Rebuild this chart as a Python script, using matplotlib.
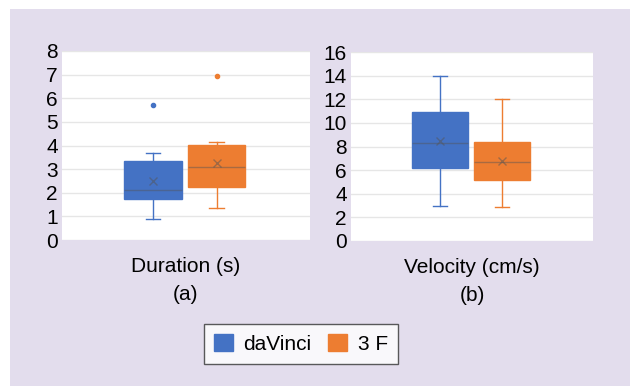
import matplotlib
matplotlib.use("Agg")
import matplotlib.pyplot as plt
from matplotlib.patches import Patch, Rectangle

plt.rcParams['font.family'] = ['Liberation Sans', 'DejaVu Sans']

series = ["daVinci", "3 F"]
colors = ["#4472c4", "#ed7d31"]

# box statistics: (whislo, q1, med, mean, q3, whishi, outliers)
duration_stats = [
    (0.9, 1.75, 2.1, 2.5, 3.33, 3.7, [5.7]),
    (1.35, 2.25, 3.1, 3.28, 4.02, 4.15, [6.95]),
]
velocity_stats = [
    (3.0, 6.2, 8.3, 8.5, 10.9, 14.0, []),
    (2.9, 5.2, 6.7, 6.8, 8.4, 12.0, []),
]
xlabels = ["Duration (s)", "Velocity (cm/s)"]
sublabels = ["(a)", "(b)"]
yticks_a = [0, 1, 2, 3, 4, 5, 6, 7, 8]
yticks_b = [0, 2, 4, 6, 8, 10, 12, 14, 16]

W, H = 630, 386
fig = plt.figure(figsize=(W / 100, H / 100), dpi=100)
fig.patch.set_facecolor("white")
fig.patches.append(Rectangle((10 / W, 0), 1, 1 - 9 / H, transform=fig.transFigure,
                             facecolor="#e3dded", edgecolor="none", zorder=-10))


def make_stats(rows):
    out = []
    for lo, q1, med, mean, q3, hi, fl in rows:
        out.append(dict(whislo=lo, q1=q1, med=med, mean=mean, q3=q3, whishi=hi, fliers=fl))
    return out


def draw(ax, rows, yticks, xlabel, sub):
    stats = make_stats(rows)
    pos = [0.867, 1.123]
    for s, p, c in zip(stats, pos, colors):
        ax.bxp([s], positions=[p], widths=0.233, patch_artist=True, showmeans=True,
               boxprops=dict(facecolor=c, edgecolor=c, linewidth=1),
               medianprops=dict(color="#555555", linewidth=1, alpha=0.45),
               whiskerprops=dict(color=c, linewidth=1),
               capprops=dict(color=c, linewidth=1),
               capwidths=0.06,
               flierprops=dict(marker="o", markersize=3, markerfacecolor=c, markeredgecolor=c),
               meanprops=dict(marker="x", markersize=6, markeredgecolor="#555555", alpha=0.5))
    ax.set_xlim(0.5, 1.5)
    ax.set_ylim(yticks[0], yticks[-1])
    ax.set_yticks(yticks)
    ax.set_xticks([])
    ax.grid(axis="y", color="#e6e6e6", linewidth=1)
    ax.set_axisbelow(True)
    for sp in ax.spines.values():
        sp.set_visible(False)
    ax.tick_params(axis="y", length=0, labelsize=15, pad=3)
    ax.set_facecolor("white")
    ax.set_xlabel(xlabel + "\n" + sub, fontsize=15, labelpad=12, linespacing=1.6)


ax1 = fig.add_axes([62 / W, 1 - 240 / H, 248 / W, 189 / H])
draw(ax1, duration_stats, yticks_a, xlabels[0], sublabels[0])
ax2 = fig.add_axes([351 / W, 1 - 241 / H, 242 / W, 189 / H])
draw(ax2, velocity_stats, yticks_b, xlabels[1], sublabels[1])

handles = [Patch(facecolor=c, edgecolor=c) for c in colors]
leg = fig.legend(handles, series, loc="center", bbox_to_anchor=(301 / W, 1 - 344 / H),
                 ncol=2, fontsize=15, frameon=True, fancybox=False, handlelength=0.9,
                 handleheight=0.9, columnspacing=0.8, handletextpad=0.5, borderpad=0.5)
leg.get_frame().set_edgecolor("#333333")
leg.get_frame().set_linewidth(1.0)

fig.savefig("out.png", dpi=100)
